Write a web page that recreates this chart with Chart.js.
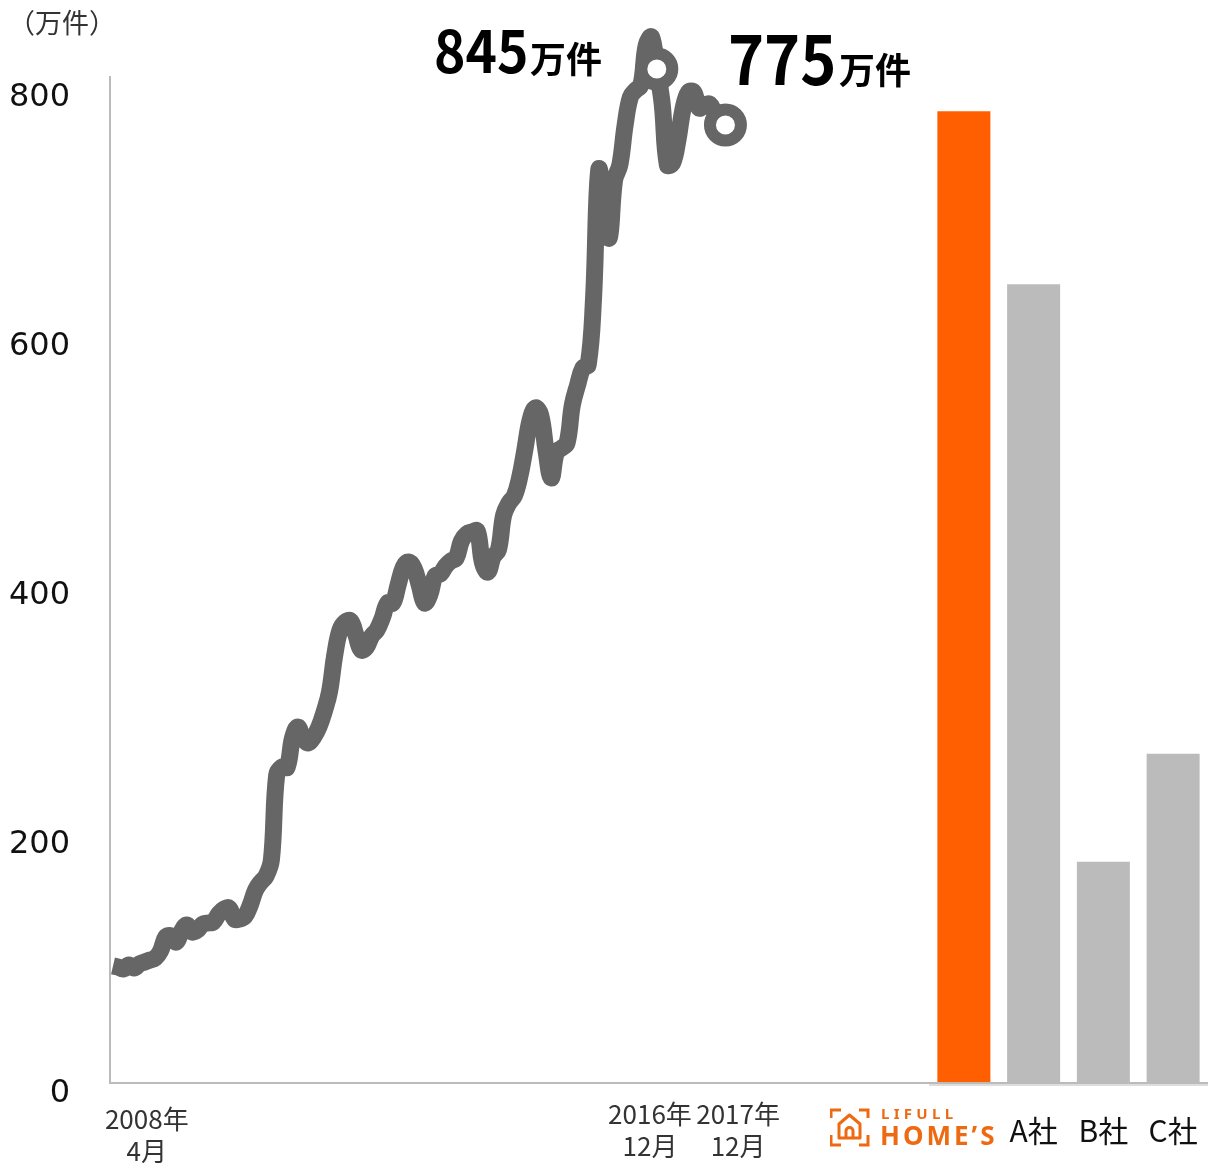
<!DOCTYPE html>
<html lang="ja">
<head>
<meta charset="utf-8">
<script src="https://cdn.jsdelivr.net/npm/chart.js@4"></script>
<style>
  body { margin: 0; background: #fff; }
  #wrap { position: relative; width: 1226px; height: 1163px; overflow: hidden; font-family: "Noto Sans CJK JP", sans-serif; color: #111; }
  canvas { position: absolute; top: 0; }
  .note { position: absolute; white-space: nowrap; line-height: 1; }
  .big { font-weight: 700; color: #000; }
  .big span { display: inline-block; transform-origin: left center; }
  .big small { position: absolute; font-size: 36px; }
</style>
</head>
<body>
<div id="wrap">
  <canvas id="bars" width="279" height="1163" style="left:929px"></canvas>
  <canvas id="line" width="1208" height="1163" style="left:0"></canvas>

  <div class="note" style="left:8px;top:8px;font-size:27px;color:#333">（万件）</div>
  <div class="note big" style="left:434px;top:19px;font-size:58px"><span id="peakNum" style="transform:scaleX(.92)"></span><small id="peakUnit" style="left:96px;top:20px"></small></div>
  <div class="note big" style="left:728px;top:22px;font-size:68px"><span id="lastNum" style="transform:scaleX(.9)"></span><small id="lastUnit" style="left:111px;top:28px"></small></div>

  <svg style="position:absolute;left:830px;top:1107px" width="40" height="40" viewBox="0 0 40 40" fill="none" stroke="#ee6a12" stroke-width="3">
    <path d="M1 11V3H11M29 3H38V11M1 28V38H11M29 38H38V28"/>
    <path d="M9 31V17L19.500 8L30 17V31Z" stroke-linejoin="round"/>
    <path d="M16 31V24A3.500 3.500 0 0 1 23 24V31"/>
  </svg>
  <div class="note" style="left:881px;top:1103px;font:700 15px 'Noto Sans',sans-serif;letter-spacing:4.300px;color:#ee6a12">LIFULL</div>
  <div class="note" style="left:880px;top:1117px;font:700 26px 'Noto Sans',sans-serif;letter-spacing:3px;color:#ee6a12">HOME’S</div>
</div>

<script>
// 2008/4 .. 2017/12
const lineValues = [
  94, 93, 91.5, 94.7, 92.3, 95.5, 97.1, 98.7, 100.3, 105.9,
  117.2, 118, 113.2, 122, 126.8, 121.2, 122.8, 127.6, 128.4, 129.2,
  135.6, 139.6, 140.4, 131.6, 131.6, 134, 142.9, 154.9, 161.3, 166.1,
  179, 247.2, 253.6, 253.6, 276.9, 285.7, 276.9, 272.9, 277.7, 285.7,
  298, 313.8, 343.5, 363.6, 370, 370.8, 359.6, 347.5, 349.9, 358.8,
  363.6, 373.2, 385.2, 385.2, 399.7, 414.1, 418.1, 413.3, 399.7, 385.2,
  391.7, 406.9, 408.5, 414.9, 418.9, 421.3, 435, 440.6, 442.2, 443,
  417.3, 410.1, 422.2, 427.8, 455.9, 465.5, 471.1, 485.6, 508, 532.1,
  541.7, 536.1, 508, 485.6, 506.4, 509.6, 513.6, 544.1, 560.2, 573.8,
  576.2, 628.4, 732.8, 704.7, 678.2, 724.7, 736.8, 768.9, 791.3, 796.9,
  801, 833.1, 839.5, 813.8, 786.5, 736.8, 738.4, 756.8, 782.5, 795.3,
  795.3, 782.5, 784.9, 785.7, 778.5, 772.9, 768.9
];
const markerPoints = [103, 116];

const barCategories = ["LIFULL HOME'S", 'A社', 'B社', 'C社'];
const barValues = [780, 641.3, 178.2, 264.8];
const barColors = ['#ff5f00', '#bbbbbb', '#bbbbbb', '#bbbbbb'];

const yTicks = [0, 200, 400, 600, 800];
const xLabels = [['2008年', '4月'], ['2016年', '12月'], ['2017年', '12月']];
const xLabelAt = [6.4, 101.7, 118.4];
const xLabelTop = [1119, 1114, 1114];

const peakNote = ['845', '万件'];
const lastNote = ['775', '万件'];
document.getElementById('peakNum').textContent = peakNote[0];
document.getElementById('peakUnit').textContent = peakNote[1];
document.getElementById('lastNum').textContent = lastNote[0];
document.getElementById('lastUnit').textContent = lastNote[1];

const axisColor = '#bbbbbb';
const lineColor = '#666666';

// draws the date labels under the axis, the first one sits a little lower
const xLabelPlugin = {
  id: 'xLabelPlugin',
  afterDraw(chart) {
    const ctx = chart.ctx;
    const sx = chart.scales.x;
    ctx.save();
    ctx.font = '26px "Noto Sans CJK JP"';
    ctx.fillStyle = '#333';
    ctx.textAlign = 'center';
    ctx.textBaseline = 'middle';
    xLabels.forEach((lines, i) => {
      lines.forEach((t, j) => ctx.fillText(t, sx.getPixelForValue(xLabelAt[i]), xLabelTop[i] + j * 32));
    });
    ctx.restore();
  }
};

new Chart(document.getElementById('line'), {
  type: 'line',
  data: {
    datasets: [{
      data: lineValues.map((v, i) => ({ x: i, y: v })),
      borderColor: lineColor,
      borderWidth: 17,
      borderCapStyle: 'butt',
      borderJoinStyle: 'round',
      tension: 0.4,
      clip: false,
      pointRadius: c => markerPoints.includes(c.dataIndex) ? 15.5 : 0,
      pointBackgroundColor: '#fff',
      pointBorderColor: lineColor,
      pointBorderWidth: 12
    }]
  },
  plugins: [xLabelPlugin],
  options: {
    responsive: false,
    animation: false,
    layout: { autoPadding: false, padding: { top: 77, left: 0, right: 0, bottom: 0 } },
    plugins: { legend: { display: false }, tooltip: { enabled: false } },
    scales: {
      x: {
        type: 'linear',
        min: -0.57,
        max: 207.4,
        grid: { display: false, drawTicks: false },
        border: { color: axisColor, width: 2 },
        ticks: { display: false },
        afterFit: s => { s.height = 80; }
      },
      y: {
        min: 0,
        max: 807.4,
        grid: { display: false, drawTicks: false },
        border: { color: axisColor, width: 2 },
        afterBuildTicks: s => { s.ticks = yTicks.map(v => ({ value: v })); },
        ticks: {
          padding: 40,
          labelOffset: 11,
          color: '#111',
          font: { family: 'DejaVu Sans', size: 32 }
        },
        afterFit: s => { s.width = 110; }
      }
    }
  }
});

new Chart(document.getElementById('bars'), {
  type: 'bar',
  data: {
    labels: barCategories,
    datasets: [{
      data: barValues,
      backgroundColor: barColors,
      barPercentage: 0.76,
      categoryPercentage: 1
    }]
  },
  options: {
    responsive: false,
    animation: false,
    layout: { autoPadding: false, padding: { top: 77, left: 0, right: 0, bottom: 0 } },
    plugins: { legend: { display: false }, tooltip: { enabled: false } },
    scales: {
      x: {
        grid: { display: false, drawTicks: false },
        border: { color: '#dddddd', width: 3 },
        ticks: {
          padding: 29,
          maxRotation: 0,
          autoSkip: false,
          color: '#111',
          font: { family: 'Noto Sans CJK JP', size: 30 },
          callback(v, i) { return i === 0 ? '' : barCategories[i]; }
        },
        // keep the last label from shrinking the plot
        afterFit: s => { s.height = 79; s.paddingLeft = 0; s.paddingRight = 0; }
      },
      y: { display: false, min: 0, max: 807.4 }
    }
  }
});
</script>
</body>
</html>
